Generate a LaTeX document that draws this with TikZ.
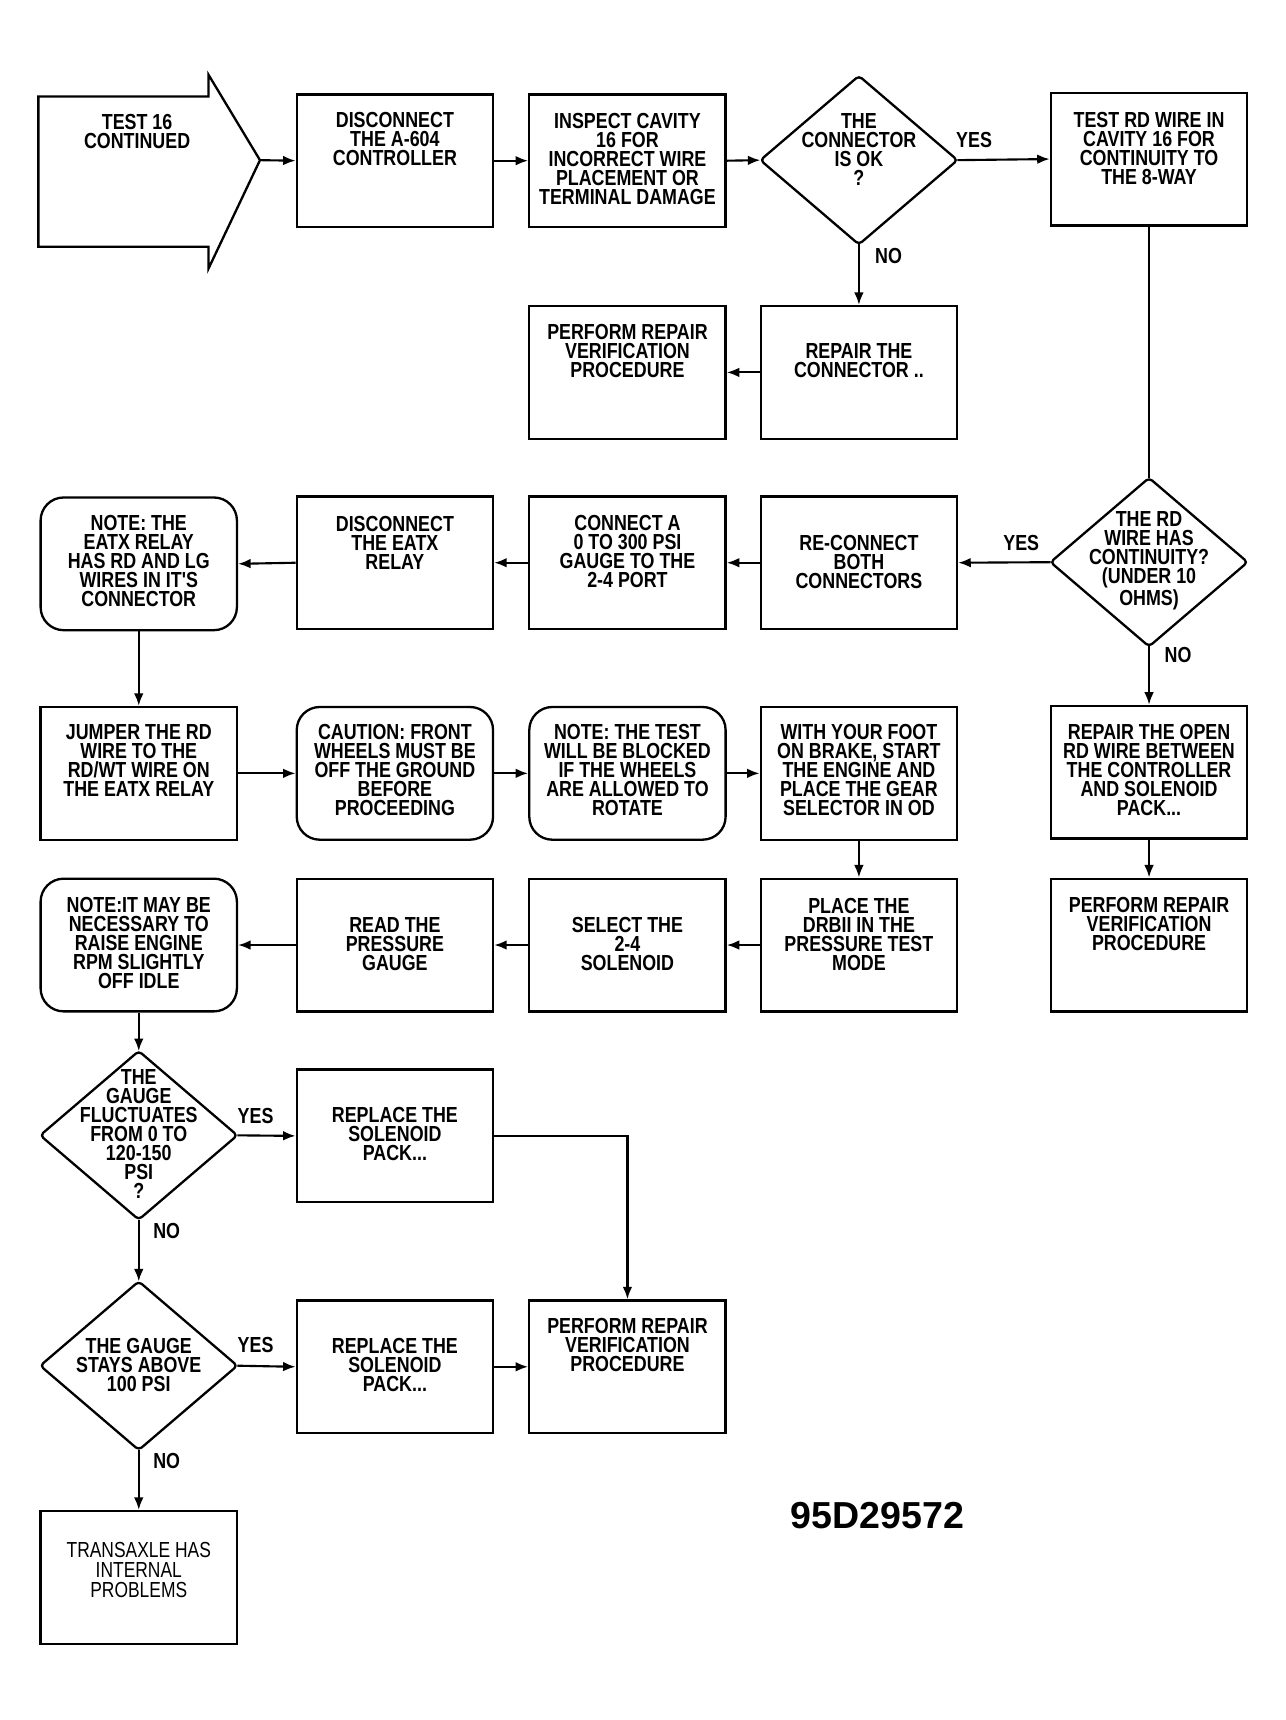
\documentclass[tikz,border=0pt]{standalone}
\usepackage{fontspec}
\usetikzlibrary{arrows.meta}
\newfontfamily\boxfont{Liberation Sans}[FakeStretch=0.82]
\newfontfamily\thinfont{Liberation Sans}[FakeStretch=0.8]
\newfontfamily\numfont{Liberation Sans}
\begin{document}
\begin{tikzpicture}[x=0.02cm,y=-0.02cm,
  box/.style={draw, line width=1.2pt, minimum width=3.58cm, minimum height=2.42cm, inner sep=0pt},
  rbox/.style={box, rounded corners=0.42cm},
  dia/.style={minimum width=3.58cm, minimum height=3.06cm, inner sep=0pt},
  dline/.style={line width=1.2pt, line join=round, rounded corners=2pt},
  txt/.style={align=center, inner sep=0pt, font=\boxfont\bfseries\fontsize{11.3pt}{9.85pt}\selectfont},
  thintxt/.style={align=center, inner sep=0pt, font=\thinfont\fontsize{11.3pt}{10.4pt}\selectfont},
  lbl/.style={inner sep=0pt, font=\boxfont\bfseries\fontsize{11.3pt}{9.85pt}\selectfont},
  conn/.style={line width=1.1pt, -{Latex[length=6.5pt,width=5pt]}},
  plainline/.style={line width=1.1pt}
]
\useasboundingbox (0,0) rectangle (1172,1568);

% ---------- Row 1 ----------
\draw[line width=1.2pt, line join=miter] (35,88) -- (190,88) -- (190,68) -- (237,146) -- (190,245) -- (190,225) -- (35,225) -- cycle;
\coordinate (t16tip) at (237,146);
\node[txt] (t16t) at (125,120) {TEST 16\\CONTINUED};

\node[box] (b1) at (360,146.5) {};
\node[txt] (b1t) at (360,127) {DISCONNECT\\THE A-604\\CONTROLLER};

\node[box] (b2) at (572,146.5) {};
\node[txt] (b2t) at (572,145) {INSPECT CAVITY\\16 FOR\\INCORRECT WIRE\\PLACEMENT OR\\TERMINAL DAMAGE};

\node[dia] (d1) at (783,146) {};
\draw[dline] (d1.north) -- (d1.east) -- (d1.south) -- (d1.west) -- cycle;
\node[txt] (d1t) at (783,136.5) {THE\\CONNECTOR\\IS OK\\?};

\node[box] (b3) at (1047.5,145) {};
\node[txt] (b3t) at (1047.5,135) {TEST RD WIRE IN\\CAVITY 16 FOR\\CONTINUITY TO\\THE 8-WAY};

\node[box] (b4) at (783,339.5) {};
\node[txt] (b4t) at (783,329) {REPAIR THE\\CONNECTOR ..};

\node[box] (b5) at (572,339.5) {};
\node[txt] (b5t) at (572,320) {PERFORM REPAIR\\VERIFICATION\\PROCEDURE};

% ---------- Row 2 ----------
\node[dia] (d2) at (1047.5,512.5) {};
\draw[dline] (d2.north) -- (d2.east) -- (d2.south) -- (d2.west) -- cycle;
\node[txt] (d2t) at (1047.5,511.5) {THE RD\\WIRE HAS\\CONTINUITY?\\(UNDER 10\\OHMS)};

\node[box] (rc) at (783,513) {};
\node[txt] (rct) at (783,512) {RE-CONNECT\\BOTH\\CONNECTORS};

\node[box] (ca) at (572,513) {};
\node[txt] (cat) at (572,503) {CONNECT A\\0 TO 300 PSI\\GAUGE TO THE\\2-4 PORT};

\node[box] (de) at (360,513) {};
\node[txt] (det) at (360,495) {DISCONNECT\\THE EATX\\RELAY};

\node[rbox] (n1) at (126.5,514) {};
\node[txt] (n1t) at (126.5,511.5) {NOTE: THE\\EATX RELAY\\HAS RD AND LG\\WIRES IN IT'S\\CONNECTOR};

% ---------- Row 3 ----------
\node[box] (jp) at (126.5,705) {};
\node[txt] (jpt) at (126.5,693.5) {JUMPER THE RD\\WIRE TO THE\\RD/WT WIRE ON\\THE EATX RELAY};

\node[rbox] (cu) at (360,705) {};
\node[txt] (cut) at (360,702) {CAUTION: FRONT\\WHEELS MUST BE\\OFF THE GROUND\\BEFORE\\PROCEEDING};

\node[rbox] (n2) at (572,705) {};
\node[txt] (n2t) at (572,702) {NOTE: THE TEST\\WILL BE BLOCKED\\IF THE WHEELS\\ARE ALLOWED TO\\ROTATE};

\node[box] (wf) at (783,705) {};
\node[txt] (wft) at (783,702) {WITH YOUR FOOT\\ON BRAKE, START\\THE ENGINE AND\\PLACE THE GEAR\\SELECTOR IN OD};

\node[box] (ro) at (1047.5,704) {};
\node[txt] (rot) at (1047.5,702) {REPAIR THE OPEN\\RD WIRE BETWEEN\\THE CONTROLLER\\AND SOLENOID\\PACK...};

% ---------- Row 4 ----------
\node[box] (pd) at (783,861.5) {};
\node[txt] (pdt) at (783,851.5) {PLACE THE\\DRBII IN THE\\PRESSURE TEST\\MODE};

\node[box] (p2) at (1047.5,861.5) {};
\node[txt] (p2t) at (1047.5,842.5) {PERFORM REPAIR\\VERIFICATION\\PROCEDURE};

\node[box] (se) at (572,861.5) {};
\node[txt] (set) at (572,860.5) {SELECT THE\\2-4\\SOLENOID};

\node[box] (rp) at (360,861.5) {};
\node[txt] (rpt) at (360,860.5) {READ THE\\PRESSURE\\GAUGE};

\node[rbox] (n3) at (126.5,861.5) {};
\node[txt] (n3t) at (126.5,860) {NOTE:IT MAY BE\\NECESSARY TO\\RAISE ENGINE\\RPM SLIGHTLY\\OFF IDLE};

% ---------- Lower part ----------
\node[dia] (d3) at (126.5,1035) {};
\draw[dline] (d3.north) -- (d3.east) -- (d3.south) -- (d3.west) -- cycle;
\node[txt] (d3t) at (126.5,1034) {THE\\GAUGE\\FLUCTUATES\\FROM 0 TO\\120-150\\PSI\\?};

\node[box] (s1) at (360,1035.5) {};
\node[txt] (s1t) at (360,1033.5) {REPLACE THE\\SOLENOID\\PACK...};

\node[dia] (d4) at (126.5,1245) {};
\draw[dline] (d4.north) -- (d4.east) -- (d4.south) -- (d4.west) -- cycle;
\node[txt] (d4t) at (126.5,1244) {THE GAUGE\\STAYS ABOVE\\100 PSI};

\node[box] (s2) at (360,1246) {};
\node[txt] (s2t) at (360,1244) {REPLACE THE\\SOLENOID\\PACK...};

\node[box] (p3) at (572,1246) {};
\node[txt] (p3t) at (572,1226.5) {PERFORM REPAIR\\VERIFICATION\\PROCEDURE};

\node[box] (tx) at (126.5,1438) {};
\node[thintxt] (txt1) at (126.5,1431.5) {TRANSAXLE HAS\\INTERNAL\\PROBLEMS};

\node[inner sep=0pt, font=\numfont\bfseries\fontsize{19.5pt}{22pt}\selectfont] (code) at (800,1382) {95D29572};

% ---------- Labels ----------
\node[lbl] (l1) at (888,128) {YES};
\node[lbl] (l2) at (810,233) {NO};
\node[lbl] (l3) at (931,495) {YES};
\node[lbl] (l4) at (1074,597) {NO};
\node[lbl] (l5) at (233,1017) {YES};
\node[lbl] (l6) at (152,1122) {NO};
\node[lbl] (l7) at (233,1226) {YES};
\node[lbl] (l8) at (152,1332) {NO};

% ---------- Connectors ----------
\draw[conn] (t16tip) -- (b1.west);
\draw[conn] (b1.east) -- (b2.west);
\draw[conn] (b2.east) -- (d1.west);
\draw[conn] (d1.east) -- (b3.west);
\draw[conn] (d1.south) -- (b4.north);
\draw[conn] (b4.west) -- (b5.east);
\draw[plainline] (b3.south) -- (d2.north);
\draw[conn] (d2.west) -- (rc.east);
\draw[conn] (d2.south) -- (ro.north);
\draw[conn] (rc.west) -- (ca.east);
\draw[conn] (ca.west) -- (de.east);
\draw[conn] (de.west) -- (n1.east);
\draw[conn] (n1.south) -- (jp.north);
\draw[conn] (jp.east) -- (cu.west);
\draw[conn] (cu.east) -- (n2.west);
\draw[conn] (n2.east) -- (wf.west);
\draw[conn] (wf.south) -- (pd.north);
\draw[conn] (ro.south) -- (p2.north);
\draw[conn] (pd.west) -- (se.east);
\draw[conn] (se.west) -- (rp.east);
\draw[conn] (rp.west) -- (n3.east);
\draw[conn] (n3.south) -- (d3.north);
\draw[conn] (d3.east) -- (s1.west);
\draw[conn] (s1.east) -| (p3.north);
\draw[conn] (d3.south) -- (d4.north);
\draw[conn] (d4.east) -- (s2.west);
\draw[conn] (s2.east) -- (p3.west);
\draw[conn] (d4.south) -- (tx.north);
\end{tikzpicture}
\end{document}
